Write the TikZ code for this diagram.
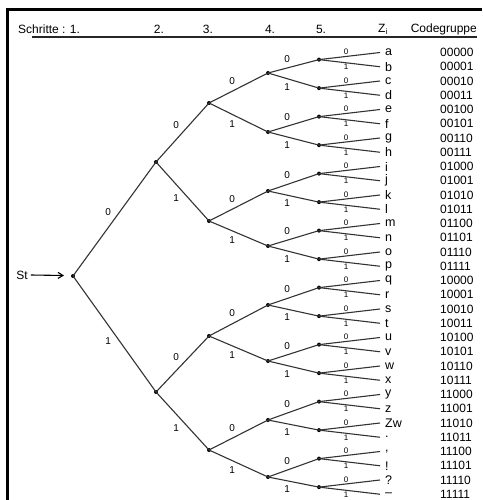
\documentclass[tikz,border=0pt]{standalone}
\usepackage{fontspec}
\setmainfont{Liberation Sans}
\usetikzlibrary{arrows.meta}
\begin{document}
\begin{tikzpicture}[x=1pt,y=-1pt,
  edge/.style={draw=black!80, line width=1.1pt},
  dot/.style={circle, fill=black, inner sep=0pt, minimum size=4pt},
  lbl/.style={font=\fontsize{10}{10}\selectfont, inner sep=3pt},
  slbl/.style={font=\fontsize{8}{8}\selectfont, inner sep=0.6pt},
  leaftxt/.style={anchor=west, font=\fontsize{12.5}{12.5}\selectfont, inner sep=0pt},
  codetxt/.style={anchor=west, font=\fontsize{12}{12}\selectfont, inner sep=0pt},
  hdr/.style={font=\fontsize{12}{12}\selectfont, inner sep=0pt},
  frame/.style={line width=2.6pt, black}]
\useasboundingbox (0,0) rectangle (482,500);
% frame (left and top only)
\draw[frame] (7.5,500) -- (7.5,9.5) -- (482,9.5);
% header
\node[hdr, anchor=west] (h1) at (18,29) {Schritte : 1.};
\node[hdr] (h2) at (159,29) {2.};
\node[hdr] (h3) at (208,29) {3.};
\node[hdr] (h4) at (270,29) {4.};
\node[hdr] (h5) at (321,29) {5.};
\node[hdr] (hz) at (383,29) {Z$_{\mathrm{i}}$};
\node[hdr, anchor=east] (hc) at (477,29) {Codegruppe};
\coordinate (ul0) at (32,37);
\coordinate (ul1) at (477,37);
\draw[line width=1.2pt, black!85] (ul0) -- (ul1);
% start
\node[font=\fontsize{12}{12}\selectfont, inner sep=1pt] (st) at (22,275) {St};
\node[dot] (s1) at (73,276) {};
\coordinate (arend) at (64,275.5);
\draw[line width=1.1pt, -{Straight Barb[length=5pt,width=6pt]}] (st.east) ++(2,0) -- (arend);
% level 2-4
\node[dot] (s2-0) at (156,162) {};
\node[dot] (s2-1) at (156,392) {};
\node[dot] (s3-0) at (209,103) {};
\node[dot] (s3-1) at (209,221) {};
\node[dot] (s3-2) at (209,336) {};
\node[dot] (s3-3) at (209,450) {};
\node[dot] (s4-0) at (268,73) {};
\node[dot] (s4-1) at (268,132) {};
\node[dot] (s4-2) at (268,191) {};
\node[dot] (s4-3) at (268,246) {};
\node[dot] (s4-4) at (268,305) {};
\node[dot] (s4-5) at (268,361) {};
\node[dot] (s4-6) at (268,420) {};
\node[dot] (s4-7) at (268,477) {};
% level 5
\foreach \j in {0,...,15}{
  \pgfmathsetmacro\yy{52.5+14.25*(2*\j+0.5)}
  \node[dot] (s5-\j) at (319,\yy) {};
}
% leaves
\foreach \t [count=\i from 0] in {a,b,c,d,e,f,g,h,i,j,k,l,m,n,o,p,q,r,s,t,u,v,w,x,y,z,Zw,.,{,},!,?,–}{
  \pgfmathsetmacro\yy{52.5+14.25*\i}
  \coordinate (z-\i) at (380,\yy);
  \node[leaftxt] (t-\i) at (385,\yy) {\t};
}
\foreach \c [count=\i from 0] in {00000,00001,00010,00011,00100,00101,00110,00111,
  01000,01001,01010,01011,01100,01101,01110,01111,
  10000,10001,10010,10011,10100,10101,10110,10111,
  11000,11001,11010,11011,11100,11101,11110,11111}{
  \pgfmathsetmacro\yy{52.5+14.25*\i}
  \node[codetxt] (c-\i) at (440,\yy) {\c};
}
% edges
\draw[edge] (s1.center) -- node[lbl,auto]{0} (s2-0.center);
\draw[edge] (s1.center) -- node[lbl,auto,swap]{1} (s2-1.center);
\foreach \j in {0,1}{
  \pgfmathtruncatemacro\a{2*\j}\pgfmathtruncatemacro\b{2*\j+1}
  \draw[edge] (s2-\j.center) -- node[lbl,auto]{0} (s3-\a.center);
  \draw[edge] (s2-\j.center) -- node[lbl,auto,swap]{1} (s3-\b.center);
}
\foreach \j in {0,...,3}{
  \pgfmathtruncatemacro\a{2*\j}\pgfmathtruncatemacro\b{2*\j+1}
  \draw[edge] (s3-\j.center) -- node[lbl,auto]{0} (s4-\a.center);
  \draw[edge] (s3-\j.center) -- node[lbl,auto,swap]{1} (s4-\b.center);
}
\foreach \j in {0,...,7}{
  \pgfmathtruncatemacro\a{2*\j}\pgfmathtruncatemacro\b{2*\j+1}
  \draw[edge] (s4-\j.center) -- node[lbl,auto]{0} (s5-\a.center);
  \draw[edge] (s4-\j.center) -- node[lbl,auto,swap]{1} (s5-\b.center);
}
\foreach \j in {0,...,15}{
  \pgfmathtruncatemacro\a{2*\j}\pgfmathtruncatemacro\b{2*\j+1}
  \draw[edge] (s5-\j.center) -- node[slbl,auto]{0} (z-\a);
  \draw[edge] (s5-\j.center) -- node[slbl,auto,swap]{1} (z-\b);
}
\end{tikzpicture}
\end{document}
